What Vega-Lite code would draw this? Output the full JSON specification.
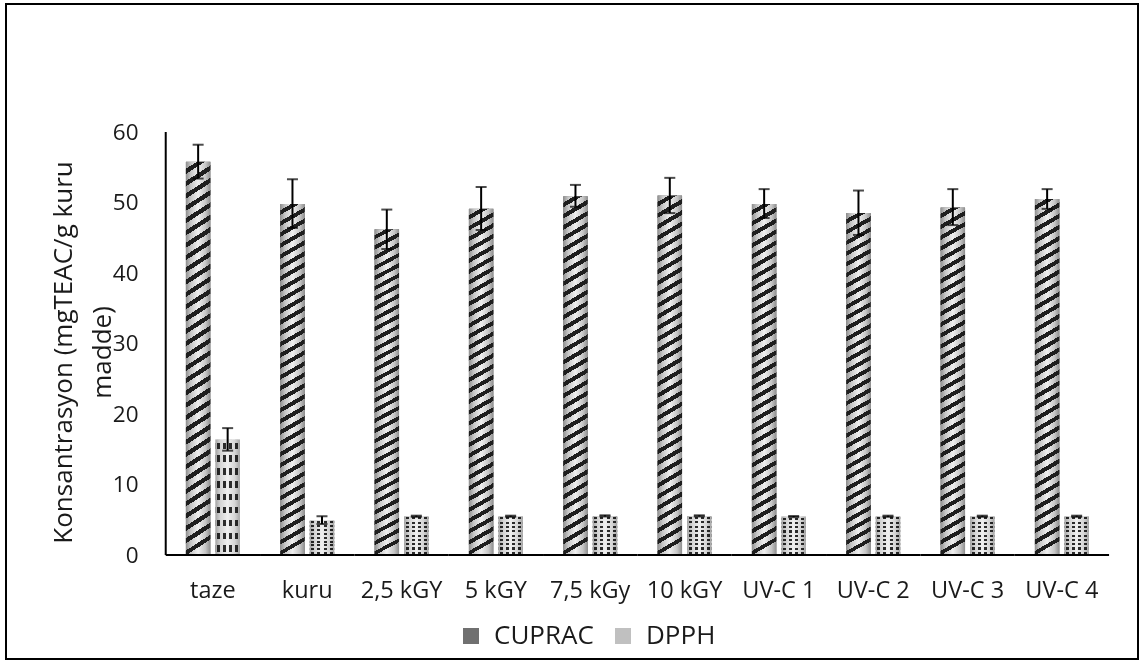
{
  "$schema": "https://vega.github.io/schema/vega-lite/v6.json",
  "autosize": {"type": "none"},
  "width": 1132,
  "height": 655,
  "padding": {"left": 6, "top": 4, "right": 6, "bottom": 3},
  "background": "white",
  "config": {
    "view": {"stroke": "#000000", "strokeWidth": 2},
    "font": "Open Sans"
  },
  "data": {
    "values": [
      {"cat": "taze", "series": "CUPRAC", "value": 55.8, "lo": 53.4, "hi": 58.2},
      {"cat": "taze", "series": "DPPH", "value": 16.4, "lo": 14.8, "hi": 18.0},
      {"cat": "kuru", "series": "CUPRAC", "value": 49.8, "lo": 46.4, "hi": 53.3},
      {"cat": "kuru", "series": "DPPH", "value": 4.9, "lo": 4.4, "hi": 5.5},
      {"cat": "2,5 kGY", "series": "CUPRAC", "value": 46.2, "lo": 43.4, "hi": 49.0},
      {"cat": "2,5 kGY", "series": "DPPH", "value": 5.5, "lo": 5.42, "hi": 5.58},
      {"cat": "5 kGY", "series": "CUPRAC", "value": 49.1, "lo": 46.1, "hi": 52.2},
      {"cat": "5 kGY", "series": "DPPH", "value": 5.5, "lo": 5.42, "hi": 5.58},
      {"cat": "7,5 kGy", "series": "CUPRAC", "value": 50.9, "lo": 49.4, "hi": 52.5},
      {"cat": "7,5 kGy", "series": "DPPH", "value": 5.55, "lo": 5.47, "hi": 5.63},
      {"cat": "10 kGY", "series": "CUPRAC", "value": 51.0, "lo": 48.5, "hi": 53.5},
      {"cat": "10 kGY", "series": "DPPH", "value": 5.55, "lo": 5.47, "hi": 5.63},
      {"cat": "UV-C 1", "series": "CUPRAC", "value": 49.8, "lo": 47.8, "hi": 51.9},
      {"cat": "UV-C 1", "series": "DPPH", "value": 5.45, "lo": 5.37, "hi": 5.53},
      {"cat": "UV-C 2", "series": "CUPRAC", "value": 48.5, "lo": 45.4, "hi": 51.7},
      {"cat": "UV-C 2", "series": "DPPH", "value": 5.5, "lo": 5.42, "hi": 5.58},
      {"cat": "UV-C 3", "series": "CUPRAC", "value": 49.3, "lo": 46.8, "hi": 51.9},
      {"cat": "UV-C 3", "series": "DPPH", "value": 5.5, "lo": 5.42, "hi": 5.58},
      {"cat": "UV-C 4", "series": "CUPRAC", "value": 50.5, "lo": 49.1, "hi": 51.9},
      {"cat": "UV-C 4", "series": "DPPH", "value": 5.5, "lo": 5.42, "hi": 5.58}
    ]
  },
  "layer": [
    {
      "mark": {"type": "bar", "strokeWidth": 0},
      "encoding": {
        "x": {
          "field": "cat", "type": "nominal", "sort": null, "title": null,
          "scale": {"paddingInner": 0, "paddingOuter": 1.002, "align": 0.8466},
          "axis": {
            "orient": "bottom", "offset": -104, "domain": false, "ticks": false, "grid": false,
            "labelAngle": 0, "labelFont": "Open Sans", "labelFontSize": 23.5, "labelColor": "#1a1a1a",
            "labelBaseline": "middle", "labelPadding": 35
          }
        },
        "xOffset": {"field": "series", "type": "nominal", "scale": {"paddingInner": 0.17, "paddingOuter": 0.683}},
        "y": {
          "field": "value", "type": "quantitative",
          "scale": {"domain": [-14.75, 78.16], "nice": false, "zero": false},
          "axis": {
            "offset": -160, "domain": false, "ticks": false, "grid": false,
            "values": [0, 10, 20, 30, 40, 50, 60],
            "labelFont": "Open Sans", "labelFontSize": 22.5, "labelColor": "#1a1a1a", "labelPadding": 28,
            "title": ["Konsantrasyon (mgTEAC/g kuru", "madde)"],
            "titleFont": "Open Sans", "titleFontSize": 26, "titleFontWeight": "normal", "titleColor": "#1a1a1a",
            "titleAngle": -90, "titleX": -103, "titleY": 348, "titleBaseline": "middle", "titleAlign": "center",
            "titleLineHeight": 39
          }
        },
        "y2": {"datum": 0},
        "fill": {
          "field": "series", "type": "nominal",
          "scale": {"domain": ["CUPRAC", "DPPH"], "range": ["#707070", "#c0c0c0"]},
          "legend": {
            "title": null, "orient": "none", "legendX": 452, "legendY": 619, "direction": "horizontal",
            "symbolType": "square", "symbolSize": 256, "symbolStrokeWidth": 0,
            "labelFont": "Open Sans", "labelFontSize": 26, "labelColor": "#1a1a1a", "labelOffset": 10,
            "columnPadding": 16,
            "encode": {
              "symbols": {
                "update": {
                  "fill": [
                    {"test": "datum.label === 'CUPRAC'", "value": {"gradient": "linear", "x1": 0, "y1": 0, "x2": 1, "y2": 1, "stops": [
                      {"offset": 0, "color": "#9a9a9a"}, {"offset": 0.2, "color": "#9a9a9a"}, {"offset": 0.2, "color": "#2a2a2a"}, {"offset": 0.4, "color": "#2a2a2a"},
                      {"offset": 0.4, "color": "#bdbdbd"}, {"offset": 0.6, "color": "#bdbdbd"}, {"offset": 0.6, "color": "#2a2a2a"}, {"offset": 0.8, "color": "#2a2a2a"},
                      {"offset": 0.8, "color": "#9a9a9a"}, {"offset": 1, "color": "#9a9a9a"}]}},
                    {"value": "#c4c4c4"}
                  ]
                }
              }
            }
          }
        }
      }
    },
    {
      "transform": [{"filter": "datum.series === 'CUPRAC'"}],
      "mark": {
        "type": "bar", "strokeWidth": 0,
        "fill": {"gradient": "linear", "x1": 0, "y1": 0, "x2": 1, "y2": 0, "stops": [
          {"offset": 0, "color": "#8e8e8e"}, {"offset": 0.2, "color": "#c6c6c6"},
          {"offset": 0.5, "color": "#efefef"}, {"offset": 0.8, "color": "#c6c6c6"},
          {"offset": 1, "color": "#8e8e8e"}]}
      },
      "encoding": {
        "x": {"field": "cat", "type": "nominal", "sort": null},
        "xOffset": {"field": "series", "type": "nominal"},
        "y": {"field": "value", "type": "quantitative"},
        "y2": {"datum": 0}
      }
    },
    {
      "transform": [{"filter": "datum.series === 'DPPH'"}],
      "mark": {
        "type": "bar", "strokeWidth": 0,
        "fill": {"gradient": "linear", "x1": 0, "y1": 0, "x2": 0, "y2": 1, "stops": [
          {"offset": 0, "color": "#ffffff"}, {"offset": 0.0278, "color": "#ffffff"}, {"offset": 0.0278, "color": "#303030"}, {"offset": 0.0833, "color": "#303030"}, {"offset": 0.0833, "color": "#ffffff"},
          {"offset": 0.1111, "color": "#ffffff"}, {"offset": 0.1389, "color": "#ffffff"}, {"offset": 0.1389, "color": "#303030"}, {"offset": 0.1944, "color": "#303030"}, {"offset": 0.1944, "color": "#ffffff"},
          {"offset": 0.2222, "color": "#ffffff"}, {"offset": 0.25, "color": "#ffffff"}, {"offset": 0.25, "color": "#303030"}, {"offset": 0.3056, "color": "#303030"}, {"offset": 0.3056, "color": "#ffffff"},
          {"offset": 0.3333, "color": "#ffffff"}, {"offset": 0.3611, "color": "#ffffff"}, {"offset": 0.3611, "color": "#303030"}, {"offset": 0.4167, "color": "#303030"}, {"offset": 0.4167, "color": "#ffffff"},
          {"offset": 0.4444, "color": "#ffffff"}, {"offset": 0.4722, "color": "#ffffff"}, {"offset": 0.4722, "color": "#303030"}, {"offset": 0.5278, "color": "#303030"}, {"offset": 0.5278, "color": "#ffffff"},
          {"offset": 0.5556, "color": "#ffffff"}, {"offset": 0.5833, "color": "#ffffff"}, {"offset": 0.5833, "color": "#303030"}, {"offset": 0.6389, "color": "#303030"}, {"offset": 0.6389, "color": "#ffffff"},
          {"offset": 0.6667, "color": "#ffffff"}, {"offset": 0.6944, "color": "#ffffff"}, {"offset": 0.6944, "color": "#303030"}, {"offset": 0.75, "color": "#303030"}, {"offset": 0.75, "color": "#ffffff"},
          {"offset": 0.7778, "color": "#ffffff"}, {"offset": 0.8056, "color": "#ffffff"}, {"offset": 0.8056, "color": "#303030"}, {"offset": 0.8611, "color": "#303030"}, {"offset": 0.8611, "color": "#ffffff"},
          {"offset": 0.8889, "color": "#ffffff"}, {"offset": 0.9167, "color": "#ffffff"}, {"offset": 0.9167, "color": "#303030"}, {"offset": 0.9722, "color": "#303030"}, {"offset": 0.9722, "color": "#ffffff"},
          {"offset": 1, "color": "#ffffff"}]}
      },
      "encoding": {
        "x": {"field": "cat", "type": "nominal", "sort": null},
        "xOffset": {"field": "series", "type": "nominal"},
        "y": {"field": "value", "type": "quantitative"},
        "y2": {"datum": 0}
      }
    },
    {
      "transform": [{"filter": "datum.series === 'DPPH'"}],
      "mark": {
        "type": "bar", "strokeWidth": 0, "blend": "lighten",
        "fill": {"gradient": "linear", "x1": 0, "y1": 0, "x2": 1, "y2": 0, "stops": [
          {"offset": 0, "color": "#ffffff"}, {"offset": 0.0625, "color": "#ffffff"}, {"offset": 0.0625, "color": "#303030"}, {"offset": 0.1875, "color": "#303030"}, {"offset": 0.1875, "color": "#ffffff"},
          {"offset": 0.3125, "color": "#ffffff"}, {"offset": 0.3125, "color": "#303030"}, {"offset": 0.4375, "color": "#303030"}, {"offset": 0.4375, "color": "#ffffff"},
          {"offset": 0.5625, "color": "#ffffff"}, {"offset": 0.5625, "color": "#303030"}, {"offset": 0.6875, "color": "#303030"}, {"offset": 0.6875, "color": "#ffffff"},
          {"offset": 0.8125, "color": "#ffffff"}, {"offset": 0.8125, "color": "#303030"}, {"offset": 0.9375, "color": "#303030"}, {"offset": 0.9375, "color": "#ffffff"},
          {"offset": 1, "color": "#ffffff"}]}
      },
      "encoding": {
        "x": {"field": "cat", "type": "nominal", "sort": null},
        "xOffset": {"field": "series", "type": "nominal"},
        "y": {"field": "value", "type": "quantitative"},
        "y2": {"datum": 0}
      }
    },
    {
      "transform": [{"filter": "datum.series === 'DPPH'"}],
      "mark": {
        "type": "bar", "strokeWidth": 0, "blend": "multiply",
        "fill": {"gradient": "linear", "x1": 0, "y1": 0, "x2": 1, "y2": 0, "stops": [
          {"offset": 0, "color": "#a4a4a4"}, {"offset": 0.2, "color": "#d4d4d4"},
          {"offset": 0.5, "color": "#efefef"}, {"offset": 0.8, "color": "#d4d4d4"},
          {"offset": 1, "color": "#a4a4a4"}]}
      },
      "encoding": {
        "x": {"field": "cat", "type": "nominal", "sort": null},
        "xOffset": {"field": "series", "type": "nominal"},
        "y": {"field": "value", "type": "quantitative"},
        "y2": {"datum": 0}
      }
    },
    {
      "transform": [{"filter": "datum.series === 'CUPRAC'"}],
      "mark": {
        "type": "bar", "strokeWidth": 0,
        "fill": {"gradient": "linear", "x1": 0, "y1": 0, "x2": 0.04, "y2": 1, "stops": [
          {"offset": 0, "color": "rgba(0,0,0,0)"}, {"offset": 0.018125, "color": "rgba(0,0,0,0)"}, {"offset": 0.018125, "color": "#1e1e1e"}, {"offset": 0.03125, "color": "#1e1e1e"},
          {"offset": 0.03125, "color": "rgba(0,0,0,0)"}, {"offset": 0.049375, "color": "rgba(0,0,0,0)"}, {"offset": 0.049375, "color": "#1e1e1e"}, {"offset": 0.0625, "color": "#1e1e1e"},
          {"offset": 0.0625, "color": "rgba(0,0,0,0)"}, {"offset": 0.080625, "color": "rgba(0,0,0,0)"}, {"offset": 0.080625, "color": "#1e1e1e"}, {"offset": 0.09375, "color": "#1e1e1e"},
          {"offset": 0.09375, "color": "rgba(0,0,0,0)"}, {"offset": 0.111875, "color": "rgba(0,0,0,0)"}, {"offset": 0.111875, "color": "#1e1e1e"}, {"offset": 0.125, "color": "#1e1e1e"},
          {"offset": 0.125, "color": "rgba(0,0,0,0)"}, {"offset": 0.143125, "color": "rgba(0,0,0,0)"}, {"offset": 0.143125, "color": "#1e1e1e"}, {"offset": 0.15625, "color": "#1e1e1e"},
          {"offset": 0.15625, "color": "rgba(0,0,0,0)"}, {"offset": 0.174375, "color": "rgba(0,0,0,0)"}, {"offset": 0.174375, "color": "#1e1e1e"}, {"offset": 0.1875, "color": "#1e1e1e"},
          {"offset": 0.1875, "color": "rgba(0,0,0,0)"}, {"offset": 0.205625, "color": "rgba(0,0,0,0)"}, {"offset": 0.205625, "color": "#1e1e1e"}, {"offset": 0.21875, "color": "#1e1e1e"},
          {"offset": 0.21875, "color": "rgba(0,0,0,0)"}, {"offset": 0.236875, "color": "rgba(0,0,0,0)"}, {"offset": 0.236875, "color": "#1e1e1e"}, {"offset": 0.25, "color": "#1e1e1e"},
          {"offset": 0.25, "color": "rgba(0,0,0,0)"}, {"offset": 0.268125, "color": "rgba(0,0,0,0)"}, {"offset": 0.268125, "color": "#1e1e1e"}, {"offset": 0.28125, "color": "#1e1e1e"},
          {"offset": 0.28125, "color": "rgba(0,0,0,0)"}, {"offset": 0.299375, "color": "rgba(0,0,0,0)"}, {"offset": 0.299375, "color": "#1e1e1e"}, {"offset": 0.3125, "color": "#1e1e1e"},
          {"offset": 0.3125, "color": "rgba(0,0,0,0)"}, {"offset": 0.330625, "color": "rgba(0,0,0,0)"}, {"offset": 0.330625, "color": "#1e1e1e"}, {"offset": 0.34375, "color": "#1e1e1e"},
          {"offset": 0.34375, "color": "rgba(0,0,0,0)"}, {"offset": 0.361875, "color": "rgba(0,0,0,0)"}, {"offset": 0.361875, "color": "#1e1e1e"}, {"offset": 0.375, "color": "#1e1e1e"},
          {"offset": 0.375, "color": "rgba(0,0,0,0)"}, {"offset": 0.393125, "color": "rgba(0,0,0,0)"}, {"offset": 0.393125, "color": "#1e1e1e"}, {"offset": 0.40625, "color": "#1e1e1e"},
          {"offset": 0.40625, "color": "rgba(0,0,0,0)"}, {"offset": 0.424375, "color": "rgba(0,0,0,0)"}, {"offset": 0.424375, "color": "#1e1e1e"}, {"offset": 0.4375, "color": "#1e1e1e"},
          {"offset": 0.4375, "color": "rgba(0,0,0,0)"}, {"offset": 0.455625, "color": "rgba(0,0,0,0)"}, {"offset": 0.455625, "color": "#1e1e1e"}, {"offset": 0.46875, "color": "#1e1e1e"},
          {"offset": 0.46875, "color": "rgba(0,0,0,0)"}, {"offset": 0.486875, "color": "rgba(0,0,0,0)"}, {"offset": 0.486875, "color": "#1e1e1e"}, {"offset": 0.5, "color": "#1e1e1e"},
          {"offset": 0.5, "color": "rgba(0,0,0,0)"}, {"offset": 0.518125, "color": "rgba(0,0,0,0)"}, {"offset": 0.518125, "color": "#1e1e1e"}, {"offset": 0.53125, "color": "#1e1e1e"},
          {"offset": 0.53125, "color": "rgba(0,0,0,0)"}, {"offset": 0.549375, "color": "rgba(0,0,0,0)"}, {"offset": 0.549375, "color": "#1e1e1e"}, {"offset": 0.5625, "color": "#1e1e1e"},
          {"offset": 0.5625, "color": "rgba(0,0,0,0)"}, {"offset": 0.580625, "color": "rgba(0,0,0,0)"}, {"offset": 0.580625, "color": "#1e1e1e"}, {"offset": 0.59375, "color": "#1e1e1e"},
          {"offset": 0.59375, "color": "rgba(0,0,0,0)"}, {"offset": 0.611875, "color": "rgba(0,0,0,0)"}, {"offset": 0.611875, "color": "#1e1e1e"}, {"offset": 0.625, "color": "#1e1e1e"},
          {"offset": 0.625, "color": "rgba(0,0,0,0)"}, {"offset": 0.643125, "color": "rgba(0,0,0,0)"}, {"offset": 0.643125, "color": "#1e1e1e"}, {"offset": 0.65625, "color": "#1e1e1e"},
          {"offset": 0.65625, "color": "rgba(0,0,0,0)"}, {"offset": 0.674375, "color": "rgba(0,0,0,0)"}, {"offset": 0.674375, "color": "#1e1e1e"}, {"offset": 0.6875, "color": "#1e1e1e"},
          {"offset": 0.6875, "color": "rgba(0,0,0,0)"}, {"offset": 0.705625, "color": "rgba(0,0,0,0)"}, {"offset": 0.705625, "color": "#1e1e1e"}, {"offset": 0.71875, "color": "#1e1e1e"},
          {"offset": 0.71875, "color": "rgba(0,0,0,0)"}, {"offset": 0.736875, "color": "rgba(0,0,0,0)"}, {"offset": 0.736875, "color": "#1e1e1e"}, {"offset": 0.75, "color": "#1e1e1e"},
          {"offset": 0.75, "color": "rgba(0,0,0,0)"}, {"offset": 0.768125, "color": "rgba(0,0,0,0)"}, {"offset": 0.768125, "color": "#1e1e1e"}, {"offset": 0.78125, "color": "#1e1e1e"},
          {"offset": 0.78125, "color": "rgba(0,0,0,0)"}, {"offset": 0.799375, "color": "rgba(0,0,0,0)"}, {"offset": 0.799375, "color": "#1e1e1e"}, {"offset": 0.8125, "color": "#1e1e1e"},
          {"offset": 0.8125, "color": "rgba(0,0,0,0)"}, {"offset": 0.830625, "color": "rgba(0,0,0,0)"}, {"offset": 0.830625, "color": "#1e1e1e"}, {"offset": 0.84375, "color": "#1e1e1e"},
          {"offset": 0.84375, "color": "rgba(0,0,0,0)"}, {"offset": 0.861875, "color": "rgba(0,0,0,0)"}, {"offset": 0.861875, "color": "#1e1e1e"}, {"offset": 0.875, "color": "#1e1e1e"},
          {"offset": 0.875, "color": "rgba(0,0,0,0)"}, {"offset": 0.893125, "color": "rgba(0,0,0,0)"}, {"offset": 0.893125, "color": "#1e1e1e"}, {"offset": 0.90625, "color": "#1e1e1e"},
          {"offset": 0.90625, "color": "rgba(0,0,0,0)"}, {"offset": 0.924375, "color": "rgba(0,0,0,0)"}, {"offset": 0.924375, "color": "#1e1e1e"}, {"offset": 0.9375, "color": "#1e1e1e"},
          {"offset": 0.9375, "color": "rgba(0,0,0,0)"}, {"offset": 0.955625, "color": "rgba(0,0,0,0)"}, {"offset": 0.955625, "color": "#1e1e1e"}, {"offset": 0.96875, "color": "#1e1e1e"},
          {"offset": 0.96875, "color": "rgba(0,0,0,0)"}, {"offset": 0.986875, "color": "rgba(0,0,0,0)"}, {"offset": 0.986875, "color": "#1e1e1e"}, {"offset": 0.999, "color": "#1e1e1e"},
          {"offset": 0.999, "color": "rgba(0,0,0,0)"}, {"offset": 1, "color": "rgba(0,0,0,0)"}
        ]}
      },
      "encoding": {
        "x": {"field": "cat", "type": "nominal", "sort": null},
        "xOffset": {"field": "series", "type": "nominal"},
        "y": {"field": "value", "type": "quantitative"},
        "y2": {"datum": 0}
      }
    },
    {
      "mark": {"type": "rule", "color": "#000000", "strokeWidth": 2},
      "encoding": {
        "x": {"field": "cat", "type": "nominal", "sort": null},
        "xOffset": {"field": "series", "type": "nominal"},
        "y": {"field": "lo", "type": "quantitative"},
        "y2": {"field": "hi"}
      }
    },
    {
      "mark": {"type": "tick", "color": "#000000", "orient": "horizontal", "size": 11, "thickness": 2},
      "encoding": {
        "x": {"field": "cat", "type": "nominal", "sort": null},
        "xOffset": {"field": "series", "type": "nominal"},
        "y": {"field": "lo", "type": "quantitative"}
      }
    },
    {
      "mark": {"type": "tick", "color": "#000000", "orient": "horizontal", "size": 11, "thickness": 2},
      "encoding": {
        "x": {"field": "cat", "type": "nominal", "sort": null},
        "xOffset": {"field": "series", "type": "nominal"},
        "y": {"field": "hi", "type": "quantitative"}
      }
    },
    {
      "transform": [{"filter": "datum.series === 'CUPRAC'"}],
      "mark": {"type": "bar", "color": "#000000", "strokeWidth": 0},
      "encoding": {
        "x": {"field": "cat", "type": "nominal", "sort": null},
        "y": {"datum": -0.13},
        "y2": {"datum": 0.13}
      }
    },
    {
      "transform": [{"filter": "datum.series === 'CUPRAC' && datum.cat === 'taze'"}],
      "mark": {"type": "rule", "color": "#000000", "strokeWidth": 2},
      "encoding": {
        "x": {"field": "cat", "type": "nominal", "sort": null, "bandPosition": 0},
        "y": {"datum": 0},
        "y2": {"datum": 60}
      }
    }
  ]
}
